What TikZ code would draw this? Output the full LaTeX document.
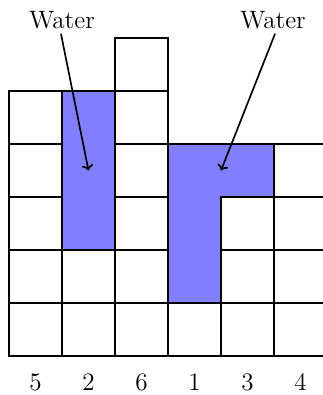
\documentclass[tikz,border=0pt]{standalone}
\usetikzlibrary{arrows.meta}
\begin{document}
\begin{tikzpicture}[
  cellline/.style={line width=1pt},
  water/.style={fill=blue!50, draw=none},
  lbl/.style={font=\fontsize{13.5}{16}\selectfont, inner sep=1pt},
  arr/.style={line width=0.9pt, -{To[length=3pt,width=6pt]}}
]
\useasboundingbox (-0.170,-0.736) rectangle (5.906,6.717);
% water
\fill[water] (1,2) rectangle (2,5);
\fill[water] (3,1) -- (4,1) -- (4,3) -- (5,3) -- (5,4) -- (3,4) -- cycle;
% columns
\foreach \x/\h in {0/5,1/2,2/6,3/1,4/3,5/4}{
  \foreach \y in {1,...,\h}{
    \draw[cellline] (\x,\y-1) rectangle (\x+1,\y);
  }
}
% water outlines
\draw[cellline] (1,2) -- (1,5) -- (2,5);
\draw[cellline] (3,1) -- (3,4) -- (5,4);
% bottom labels
\foreach \x/\v [count=\i] in {0/5,1/2,2/6,3/1,4/3,5/4}{
  \node[lbl] (n\i) at (\x+0.5,-0.5) {\v};
}
% water labels
\node[lbl] (w1) at (1.0,6.34) {Water};
\node[lbl] (w2) at (4.98,6.34) {Water};
\coordinate (t1) at (1.5,3.5);
\coordinate (t2) at (4.0,3.5);
\draw[arr] (w1.south) ++(-0.02,-0.05) -- (t1);
\draw[arr] (w2.south) ++(0.04,-0.05) -- (t2);
\end{tikzpicture}
\end{document}
